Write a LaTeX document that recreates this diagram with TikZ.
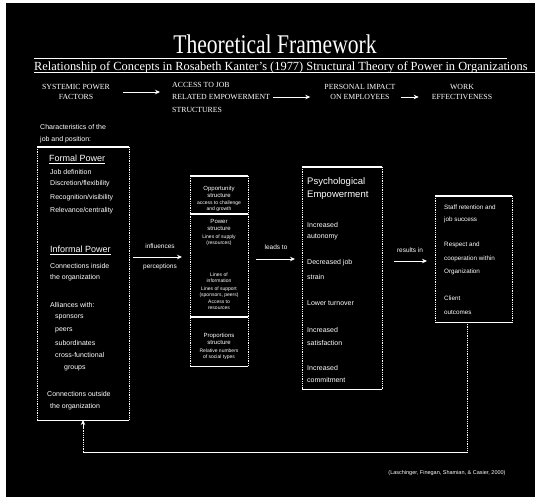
\documentclass[tikz,border=0pt]{standalone}
\usepackage{fontspec}
\setmainfont{Liberation Serif}
\newfontfamily\boxfont{Liberation Sans}
\usetikzlibrary{arrows.meta}
\newcommand\frameit[1]{%
  \draw[edge] (#1.north west) -- (#1.north east) (#1.south west) -- (#1.south east);
  \draw[side] (#1.north west) -- (#1.south west) (#1.north east) -- (#1.south east);}
\begin{document}
\begin{tikzpicture}[x=1pt,y=-1pt,
  txt/.style={text=white, inner sep=0pt, anchor=west, font=\boxfont\fontsize{7}{8}\selectfont},
  head/.style={text=white, inner sep=0pt, anchor=west, font=\boxfont\fontsize{9}{10}\selectfont},
  ptxt/.style={text=white, inner sep=0pt, anchor=west, font=\boxfont\fontsize{7}{8}\selectfont},
  rtxt/.style={text=white, inner sep=0pt, anchor=west, font=\boxfont\fontsize{6.3}{7}\selectfont},
  mtxt/.style={text=white, inner sep=0pt, align=center, font=\boxfont\fontsize{6}{7}\selectfont},
  mtiny/.style={text=white, inner sep=0pt, align=center, font=\boxfont\fontsize{5}{5.8}\selectfont},
  hdr/.style={text=white, inner sep=0pt, align=center, font=\fontsize{7.8}{10.5}\selectfont},
  alab/.style={text=white, inner sep=0pt, font=\boxfont\fontsize{6.5}{7}\selectfont},
  boxshape/.style={inner sep=0pt, anchor=north west},
  side/.style={white, densely dotted, line width=0.8pt},
  edge/.style={white, line width=1.1pt},
  flow/.style={white, line width=1pt, -{Stealth[length=5pt,width=4.5pt]}}]

\useasboundingbox (0,0) rectangle (535,501);
\fill[white] (0,0) rectangle (535,501);
\fill[black] (6,3) rectangle (535,497);

% title and subtitle
\node[text=white, inner sep=0pt, anchor=base, font=\fontsize{27}{28}\selectfont] (title) at (275,53) {\scalebox{0.8}[1]{Theoretical Framework}};
\draw[white, line width=0.7pt] (34,58) -- (507,58);
\node[text=white, inner sep=0pt, anchor=base west, font=\fontsize{12.4}{13}\selectfont] (sub) at (34,70) {Relationship of Concepts in Rosabeth Kanter's (1977) Structural Theory of Power in Organizations};
\draw[white, line width=0.6pt] (34,72.5) -- (535,72.5);

% column headers
\node[hdr] (h1) at (76,92) {SYSTEMIC POWER\\FACTORS};
\node[hdr, align=left, anchor=west, font=\fontsize{7.8}{12.5}\selectfont] (h2) at (172,97) {ACCESS TO JOB\\RELATED EMPOWERMENT\\STRUCTURES};
\node[hdr] (h3) at (360,92) {PERSONAL IMPACT\\ON EMPLOYEES};
\node[hdr] (h4) at (462,92) {WORK\\EFFECTIVENESS};
\coordinate (hy) at (0,97);
\draw[flow, shorten <=13pt, shorten >=12pt] (h1.east) -- (h1.east -| h2.west);
\draw[flow, shorten <=3pt, shorten >=14pt] (h2.east) -- (h2.east -| h3.west);
\draw[flow, shorten <=5pt, shorten >=13pt] (h3.east |- hy) -- (h4.west |- hy);

% text above left box
\node[txt, font=\boxfont\fontsize{7}{8}\selectfont] (pre1) at (40,127) {Characteristics of the};
\node[txt, font=\boxfont\fontsize{7}{8}\selectfont] (pre2) at (40,140) {job and position:};

% left box
\node[boxshape, minimum width=92pt, minimum height=273pt] (lbox) at (37,147) {};
\frameit{lbox}
\node[head] (fp) at (49,159) {\underline{Formal Power}};
\node[txt] (l1) at (50,172) {Job definition};
\node[txt] (l2) at (50,184) {Discretion/flexibility};
\node[txt] (l3) at (50,198) {Recognition/visibility};
\node[txt] (l4) at (50,211) {Relevance/centrality};
\node[head] (ip) at (50,250) {\underline{Informal Power}};
\node[txt] (l5) at (50,266) {Connections inside};
\node[txt] (l6) at (50,278) {the organization};
\node[txt] (l7) at (50,305) {Alliances with:};
\node[txt] (l8) at (55,317) {sponsors};
\node[txt] (l9) at (55,330) {peers};
\node[txt] (l10) at (55,343) {subordinates};
\node[txt] (l11) at (55,355) {cross-functional};
\node[txt] (l12) at (64,368) {groups};
\node[txt] (l13) at (47,394) {Connections outside};
\node[txt] (l14) at (50,407) {the organization};

% middle box
\node[boxshape, minimum width=58pt, minimum height=190pt] (mbox) at (190,176) {};
\frameit{mbox}
\draw[edge] (190,214) -- (248,214);
\draw[edge] (190,317) -- (248,317);
\node[mtxt] (m1) at (219,192) {Opportunity\\structure};
\node[mtiny] (m2) at (219,206) {access to challenge\\and growth};
\node[mtxt] (m3) at (219,225) {Power\\structure};
\node[mtiny] (m4) at (219,240) {Lines of supply\\(resources)};
\node[mtiny] (m5) at (219,278) {Lines of\\information};
\node[mtiny] (m6) at (219,292) {Lines of support\\(sponsors, peers)};
\node[mtiny] (m7) at (219,305) {Access to\\resources};
\node[mtxt] (m8) at (219,339) {Proportions\\structure};
\node[mtiny] (m9) at (219,354) {Relative numbers\\of social types};

% psychological empowerment box
\node[boxshape, minimum width=80pt, minimum height=222pt] (pbox) at (302,167) {};
\frameit{pbox}
\node[head, font=\boxfont\fontsize{9.5}{10}\selectfont] (p1) at (307,182) {Psychological};
\node[head, font=\boxfont\fontsize{9.5}{10}\selectfont] (p2) at (307,195) {Empowerment};
\node[ptxt] (p3) at (307,225) {Increased};
\node[ptxt] (p4) at (307,237) {autonomy};
\node[ptxt] (p5) at (307,263) {Decreased job};
\node[ptxt] (p6) at (307,277) {strain};
\node[ptxt] (p7) at (307,303) {Lower turnover};
\node[ptxt] (p8) at (307,330) {Increased};
\node[ptxt] (p9) at (307,343) {satisfaction};
\node[ptxt] (p10) at (307,368) {Increased};
\node[ptxt] (p11) at (307,380) {commitment};

% work effectiveness box
\node[boxshape, minimum width=77pt, minimum height=126pt] (rbox) at (435,196) {};
\frameit{rbox}
\node[rtxt] (r1) at (444,207) {Staff retention and};
\node[rtxt] (r2) at (444,220) {job success};
\node[rtxt] (r3) at (444,245) {Respect and};
\node[rtxt] (r4) at (444,259) {cooperation within};
\node[rtxt] (r5) at (444,272) {Organization};
\node[rtxt] (r6) at (444,298) {Client};
\node[rtxt] (r7) at (444,312) {outcomes};

% main flow arrows
\coordinate (ya) at (0,257);
\coordinate (yb) at (0,259);
\coordinate (yc) at (0,261);
\draw[flow, shorten <=4pt, shorten >=8pt] (lbox.east |- ya) -- (mbox.west |- ya);
\node[alab] (a1t) at (160,246) {influences};
\node[alab] (a1b) at (160,267) {perceptions};
\draw[flow, shorten <=8pt, shorten >=7pt] (mbox.east |- yb) -- (pbox.west |- yb);
\node[alab] (a2t) at (276,247) {leads to};
\draw[flow, shorten <=12pt, shorten >=8pt] (pbox.east |- yc) -- (rbox.west |- yc);
\node[alab] (a3t) at (410,250) {results in};

% feedback loop
\coordinate (fb) at (0,452);
\coordinate (rb) at (467,322);
\coordinate (lb) at (83,420);
\draw[side] (rb) -- (rb |- fb);
\draw[white, line width=0.9pt] (rb |- fb) -- (lb |- fb);
\draw[side] (lb |- fb) -- ([yshift=-6pt]lb);
\draw[white, line width=1pt, -{Stealth[length=5pt,width=4.5pt]}] ([yshift=-8pt]lb) -- (lb);

% source
\node[text=white, inner sep=0pt, font=\boxfont\fontsize{5.5}{6}\selectfont] (src) at (447,473) {(Laschinger, Finegan, Shamian, \& Casier, 2000)};
\end{tikzpicture}
\end{document}
